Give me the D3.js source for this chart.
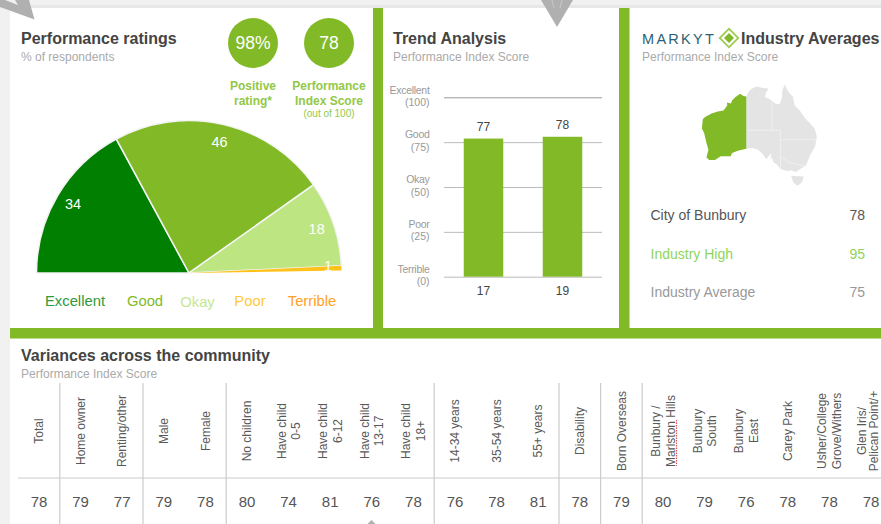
<!DOCTYPE html>
<html>
<head>
<meta charset="utf-8">
<script src="https://cdn.jsdelivr.net/npm/d3@7"></script>
<style>
	html, body { margin: 0; padding: 0; background: #fff; overflow: hidden; }
	svg { display: block; }
	text { font-family: "Liberation Sans", Arial, sans-serif; }
</style>
</head>
<body>
<div id="chart"></div>
<script>
const WIDTH = 881;
const HEIGHT = 524;

const GREEN = '#82ba27';
const DARK = '#444';
const GREY = '#aaa';

// performance ratings
const ratingNames = ['Excellent', 'Good', 'Okay', 'Poor', 'Terrible'];
const ratingValues = [34, 46, 18, 1, 0];
const ratingColors = ['#007f00', '#82ba27', '#bde582', '#ffc21a', '#ff9f1c'];
const ratingLegendColors = ['#2f9a3a', '#82ba27', '#c4e892', '#ffc93c', '#ffa126'];
const ratingLegendX = [75, 145, 197.5, 250, 312];

// trend analysis
const trendYears = ['17', '19'];
const trendScores = [77, 78];
const scoreTicks = [0, 25, 50, 75, 100];
const scoreNames = ['Terrible', 'Poor', 'Okay', 'Good', 'Excellent'];

// industry averages
const industryNames = ['City of Bunbury', 'Industry High', 'Industry Average'];
const industryScores = [78, 95, 75];
const industryColors = ['#555', '#8fd45c', '#999'];

// variances table
const groupNames = [
	['Total'], ['Home owner'], ['Renting/other'], ['Male'], ['Female'], ['No children'],
	['Have child', '0-5'], ['Have child', '6-12'], ['Have child', '13-17'], ['Have child', '18+'],
	['14-34 years'], ['35-54 years'], ['55+ years'], ['Disability'], ['Born Overseas'],
	['Bunbury /', 'Marlston Hills'], ['Bunbury', 'South'], ['Bunbury', 'East'], ['Carey Park'],
	['Usher/College', 'Grove/Withers'], ['Glen Iris/', 'Pelican Point/+']
];
const groupScores = [78, 79, 77, 79, 78, 80, 74, 81, 76, 78, 76, 78, 81, 78, 79, 80, 79, 76, 78, 78, 78];
// a divider sits in front of these columns
const groupDividers = [1, 3, 5, 10, 13, 14, 15];

// rough outline of Australia, lon/lat, clockwise
const waOutline = [[129,-14.9],[129,-31.7],[126,-32.3],[124,-33],[123.5,-33.9],[120,-33.9],[118,-35],[116,-35],[115,-34.3],[115.7,-32],[115,-30],[114.2,-27],[113.4,-25.5],[113.7,-22.5],[114.5,-21.8],[116.8,-20.6],[119,-20],[121,-19.6],[122.3,-18],[122.2,-17],[123.6,-17.3],[124,-16.3],[125,-15.3],[126.8,-14],[128,-14.8],[129,-14.9]];
const restOutline = [[129,-14.9],[130,-13],[130.8,-12.4],[132.5,-11.5],[135,-12],[136.8,-12.2],[136,-13.5],[135.5,-15],[137.5,-16],[139.5,-17.5],[140.8,-17.5],[141.6,-15],[141.6,-13],[142.5,-10.8],[143.5,-12.8],[144.5,-14.2],[145.4,-15],[146,-18],[148,-19.9],[149.5,-22],[151,-23.5],[153,-25.5],[153.8,-28],[153.2,-31],[151.5,-33.5],[150,-36.5],[148,-37.6],[146.4,-38.4],[144.7,-37.9],[143.5,-38.1],[141,-37.6],[139.7,-36.3],[138.5,-35.6],[138.1,-34.2],[137.5,-35.1],[137.8,-33],[136,-34.8],[135,-33.5],[134,-32.6],[133,-32],[131.2,-31.5],[129,-31.7],[129,-14.9]];
const tasOutline = [[144.7,-39.4],[149.2,-39.6],[148.6,-41.2],[147,-42.1],[145.6,-41.3],[144.7,-39.4]];
const stateLines = [
	[[138,-16.5],[138,-26]],
	[[129,-26],[141,-26]],
	[[141,-26],[141,-37.6]],
	[[141,-29],[153.6,-29]],
	[[141,-34],[144,-35.8],[150,-36.8]]
];

const svg = d3.select('#chart').append('svg')
	.attr('width', WIDTH)
	.attr('height', HEIGHT);

// page background and the green panel dividers
svg.append('rect').attr('width', WIDTH).attr('height', HEIGHT).attr('fill', '#f1f1f1');
svg.append('rect').attr('y', 5).attr('width', WIDTH).attr('height', 3).attr('fill', '#e8e8e8');
svg.append('rect').attr('x', 10).attr('y', 8).attr('width', WIDTH).attr('height', HEIGHT).attr('fill', '#fff');
svg.append('rect').attr('x', 373).attr('y', 8).attr('width', 10).attr('height', 320).attr('fill', GREEN);
svg.append('rect').attr('x', 619).attr('y', 8).attr('width', 10.5).attr('height', 320).attr('fill', GREEN);
svg.append('rect').attr('x', 10).attr('y', 328).attr('width', WIDTH).attr('height', 10.5).attr('fill', GREEN);

// the grey pointers that stick out of the screenshot
svg.append('path').attr('fill', '#b0b0b0').attr('d', 'M0,7L34.5,19.5L29,0L15,0L18,5L5,0L0,0Z');
svg.append('path').attr('fill', '#b0b0b0').attr('d', 'M541,0L557,27L573,0Z');
svg.append('path').attr('stroke', '#c8c8c8').attr('d', 'M552,0L554,8M562,0L560,8');
svg.append('path').attr('fill', '#b0b0b0').attr('d', 'M371.5,520L375.5,524L367.5,524Z');

function title(x, y, main, sub) {
	svg.append('text').attr('x', x).attr('y', y).attr('font-size', 16).attr('font-weight', 'bold')
		.attr('fill', DARK).text(main);
	svg.append('text').attr('x', x).attr('y', y + 17).attr('font-size', 12)
		.attr('fill', GREY).text(sub);
}

title(21, 43.5, 'Performance ratings', '% of respondents');
title(393, 43.5, 'Trend Analysis', 'Performance Index Score');
title(21, 361, 'Variances across the community', 'Performance Index Score');

// Performance ratings gauge, the blank sliver at the end is the rounding gap
const gauge = svg.append('g').attr('transform', 'translate(189,273)');
const pie = d3.pie().sort(null).startAngle(-Math.PI / 2).endAngle(Math.PI / 2 - 0.016);
const arc = d3.arc().innerRadius(0).outerRadius(152.5);
const labelArc = d3.arc().innerRadius(135).outerRadius(135);
const slices = pie(ratingValues);

gauge.selectAll('path').data(slices).enter().append('path')
	.attr('d', arc)
	.attr('fill', (d, i) => ratingColors[i])
	.attr('stroke', '#f4f4f4')
	.attr('stroke-width', (d) => (d.data > 1 ? 1.5 : 0));

gauge.selectAll('text').data(slices.filter((d) => d.data >= 1)).enter().append('text')
	.attr('transform', (d) => {
		const c = labelArc.centroid(d);
		// the 1 was nudged up and out in the original
		return d.data === 1 ? 'translate(' + (c[0] + 4) + ',' + (c[1] - 3) + ')' : 'translate(' + c + ')';
	})
	.attr('dy', '0.35em')
	.attr('text-anchor', 'middle')
	.attr('font-size', 14.5)
	.attr('fill', '#fff')
	.text((d) => d.data);

svg.selectAll('.rating-legend').data(ratingNames).enter().append('text')
	.attr('class', 'rating-legend')
	.attr('x', (d, i) => ratingLegendX[i])
	.attr('y', (d) => (d === 'Okay' ? 306.5 : 305.5))
	.attr('text-anchor', 'middle')
	.attr('font-size', 14.8)
	.attr('fill', (d, i) => ratingLegendColors[i])
	.text((d) => d);

// the two headline circles
const headlines = [
	{ cx: 253, value: '98%', lines: ['Positive', 'rating*'] },
	{ cx: 329, value: '78', lines: ['Performance', 'Index Score'] }
];
headlines.forEach((h) => {
	svg.append('circle').attr('cx', h.cx).attr('cy', 43).attr('r', 25).attr('fill', GREEN);
	svg.append('text').attr('x', h.cx).attr('y', 49).attr('text-anchor', 'middle')
		.attr('font-size', 17.5).attr('fill', '#fff').text(h.value);
	h.lines.forEach((line, i) => {
		svg.append('text').attr('x', h.cx).attr('y', 90 + i * 15).attr('text-anchor', 'middle')
			.attr('font-size', 12).attr('font-weight', 'bold').attr('fill', '#93c847').text(line);
	});
});
svg.append('text').attr('x', 329).attr('y', 117).attr('text-anchor', 'middle')
	.attr('font-size', 10).attr('fill', '#93c847').text('(out of 100)');

// Trend Analysis
const trendY = d3.scaleLinear().domain([0, 100]).range([276.7, 97.3]);
const trendX = d3.scaleBand().domain(trendYears).range([444, 602]).paddingInner(0.5).paddingOuter(0.25);

const grid = svg.append('g').attr('transform', 'translate(444,0)')
	.call(d3.axisLeft(trendY).tickValues(scoreTicks).tickSize(-158).tickFormat(''));
grid.select('.domain').remove();
grid.selectAll('line').attr('stroke', (d) => (d === 100 ? '#999' : '#bbb'));

svg.selectAll('.trend-bar').data(trendScores).enter().append('rect')
	.attr('class', 'trend-bar')
	.attr('x', (d, i) => trendX(trendYears[i]))
	.attr('y', (d) => trendY(d))
	.attr('width', trendX.bandwidth())
	.attr('height', (d) => trendY(0) - trendY(d))
	.attr('fill', GREEN);

svg.selectAll('.trend-value').data(trendScores).enter().append('text')
	.attr('class', 'trend-value')
	.attr('x', (d, i) => trendX(trendYears[i]) + trendX.bandwidth() / 2)
	.attr('y', (d) => trendY(d) - 8)
	.attr('text-anchor', 'middle')
	.attr('font-size', 12)
	.attr('fill', DARK)
	.text((d) => d);

svg.selectAll('.trend-year').data(trendYears).enter().append('text')
	.attr('class', 'trend-year')
	.attr('x', (d) => trendX(d) + trendX.bandwidth() / 2)
	.attr('y', 294.5)
	.attr('text-anchor', 'middle')
	.attr('font-size', 12)
	.attr('fill', DARK)
	.text((d) => d);

scoreTicks.forEach((tick, i) => {
	const y = trendY(tick);
	svg.append('text').attr('x', 429.5).attr('y', y - 3.7).attr('text-anchor', 'end')
		.attr('font-size', 10.5).attr('letter-spacing', -0.3).attr('fill', '#999').text(scoreNames[i]);
	svg.append('text').attr('x', 429.5).attr('y', y + 8.5).attr('text-anchor', 'end')
		.attr('font-size', 10.5).attr('fill', '#999').text('(' + tick + ')');
});

// Industry Averages header with the logo
svg.append('text').attr('x', 642).attr('y', 43.5).attr('font-size', 14.5).attr('letter-spacing', 2.3)
	.attr('fill', '#2b5f75').text('MARKYT');
svg.append('path').attr('fill', '#9ccb50').attr('d', 'M729,27.5L739.5,38L729,48.5L718.5,38Z');
svg.append('path').attr('fill', '#fff').attr('d', 'M729,30L737,38L729,46L721,38Z');
svg.append('path').attr('fill', GREEN).attr('d', 'M729,33L734,38L729,43L724,38Z');
svg.append('text').attr('x', 741).attr('y', 43.5).attr('font-size', 16).attr('font-weight', 'bold')
	.attr('fill', DARK).text('Industry Averages');
svg.append('text').attr('x', 642).attr('y', 60.5).attr('font-size', 12)
	.attr('fill', GREY).text('Performance Index Score');

// map
const projection = d3.geoMercator().scale(163).center([129, -25]).translate([746.3, 127]);
const path = d3.geoPath().projection(projection);
const polygon = (ring) => ({ type: 'Polygon', coordinates: [ring] });

svg.append('path').attr('d', path(polygon(restOutline))).attr('fill', '#e4e4e4');
svg.append('path').attr('d', path(polygon(tasOutline))).attr('fill', '#e4e4e4');
svg.append('path').attr('d', path({ type: 'MultiLineString', coordinates: stateLines }))
	.attr('fill', 'none').attr('stroke', '#f2f2f2').attr('stroke-width', 0.8);
svg.append('path').attr('d', path(polygon(waOutline))).attr('fill', GREEN);

industryNames.forEach((name, i) => {
	const y = 220 + i * 38.6;
	svg.append('text').attr('x', 650.5).attr('y', y).attr('font-size', 14)
		.attr('fill', industryColors[i]).text(name);
	svg.append('text').attr('x', 865).attr('y', y).attr('text-anchor', 'end').attr('font-size', 14)
		.attr('fill', industryColors[i]).text(industryScores[i]);
});

// Variances table
const colX = d3.scaleBand().domain(d3.range(groupScores.length)).range([18.2, 891.8]);

svg.append('line').attr('x1', 18).attr('x2', WIDTH).attr('y1', 478).attr('y2', 478)
	.attr('stroke', '#ccc').attr('stroke-width', 1.2);

svg.selectAll('.divider').data(groupDividers).enter().append('line')
	.attr('class', 'divider')
	.attr('x1', (d) => colX(d))
	.attr('x2', (d) => colX(d))
	.attr('y1', 383)
	.attr('y2', 524)
	.attr('stroke', '#ccc')
	.attr('stroke-width', 1.2);

groupNames.forEach((lines, i) => {
	const cx = colX(i) + colX.bandwidth() / 2;
	lines.forEach((line, j) => {
		let offset = lines.length === 1 ? 0 : (j === 0 ? -7.3 : 7.3);
		// last column runs against the edge of the page
		if (line === 'Pelican Point/+') offset = 2.5;
		if (line === 'Glen Iris/') offset = -9.5;
		svg.append('text')
			.attr('transform', 'translate(' + (cx + offset) + ',431)rotate(-90)')
			.attr('dy', '0.35em')
			.attr('text-anchor', 'middle')
			.attr('font-size', 12)
			.attr('fill', '#595959')
			.text(line);
	});
});

// spell check squiggle that is in the screenshot
svg.append('line').attr('x1', 676.5).attr('x2', 676.5).attr('y1', 420).attr('y2', 466)
	.attr('stroke', '#e2565a').attr('stroke-width', 1.2).attr('stroke-dasharray', '1.5 1');

svg.selectAll('.score').data(groupScores).enter().append('text')
	.attr('class', 'score')
	.attr('x', (d, i) => colX(i) + colX.bandwidth() / 2)
	.attr('y', 507)
	.attr('text-anchor', 'middle')
	.attr('font-size', 15)
	.attr('fill', '#555')
	.text((d) => d);
</script>
</body>
</html>
